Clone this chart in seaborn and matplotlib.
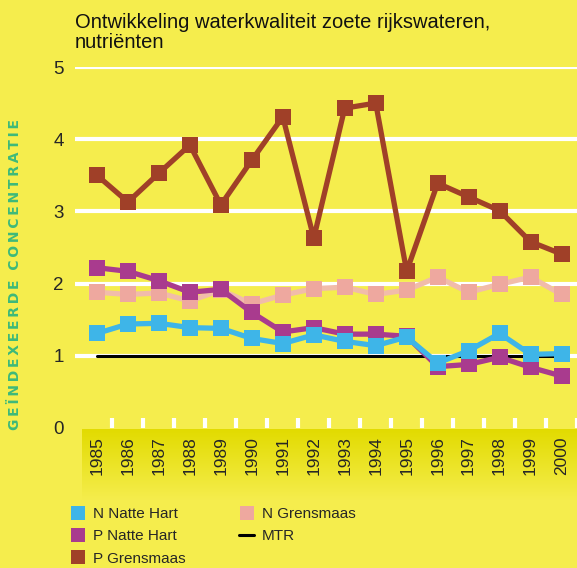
import numpy as np
import pandas as pd
import matplotlib
matplotlib.use("Agg")
import matplotlib.pyplot as plt
import seaborn as sns
from matplotlib.lines import Line2D

# -----------------------------------
# Data
# -----------------------------------
years = [1985, 1986, 1987, 1988, 1989, 1990, 1991, 1992,
         1993, 1994, 1995, 1996, 1997, 1998, 1999, 2000]

n_grensmaas = [1.88, 1.85, 1.87, 1.76, 1.91, 1.72, 1.84, 1.93,
               1.95, 1.85, 1.91, 2.09, 1.88, 1.99, 2.09, 1.85]
p_natte_hart = [2.22, 2.17, 2.04, 1.88, 1.92, 1.60, 1.33, 1.39,
                1.30, 1.30, 1.27, 0.85, 0.88, 0.98, 0.84, 0.72]
n_natte_hart = [1.31, 1.44, 1.45, 1.39, 1.38, 1.24, 1.17, 1.29,
                1.20, 1.14, 1.26, 0.90, 1.07, 1.31, 1.02, 1.03]
p_grensmaas = [3.50, 3.13, 3.53, 3.92, 3.09, 3.71, 4.31, 2.63,
               4.43, 4.50, 2.17, 3.39, 3.20, 3.01, 2.58, 2.41]
mtr = [1.0] * len(years)

series_names = ["N Grensmaas", "P Natte Hart", "N Natte Hart", "P Grensmaas"]
series_values = [n_grensmaas, p_natte_hart, n_natte_hart, p_grensmaas]
colors = {"N Grensmaas": "#eea89f", "P Natte Hart": "#a93b8e",
          "N Natte Hart": "#3eb5e8", "P Grensmaas": "#a04028"}
line_colors = {"N Grensmaas": "#f1bcaa", "P Natte Hart": "#a93b8e",
               "N Natte Hart": "#3eb5e8", "P Grensmaas": "#a04028"}

rows = []
for name, vals in zip(series_names, series_values):
    for i, v in enumerate(vals):
        rows.append({"pos": i, "year": years[i], "series": name, "value": v})
df = pd.DataFrame(rows)

# -----------------------------------
# Style
# -----------------------------------
bg = "#f5ed4d"
sns.set_theme(style="white")
plt.rcParams["font.family"] = ["Liberation Sans", "DejaVu Sans"]

fig = plt.figure(figsize=(5.77, 5.68), dpi=100, facecolor=bg)

# darker band behind the year labels
band = fig.add_axes([82 / 577, (568 - 500) / 568, 1 - 82 / 577, 71 / 568], zorder=0)
grad = np.linspace(0, 1, 100).reshape(-1, 1)
top = np.array(matplotlib.colors.to_rgb("#e2db00"))
bot = np.array(matplotlib.colors.to_rgb(bg))
img = top[None, None, :] * (1 - grad[:, :, None]) + bot[None, None, :] * grad[:, :, None]
band.imshow(img, aspect="auto", extent=[0, 1, 0, 1])
band.axis("off")

ax = fig.add_axes([75 / 577, (568 - 428) / 568, 1 - 75 / 577, 361 / 568], zorder=1)
ax.set_facecolor("none")

# white gridlines
for y in [1, 2, 3, 4, 5]:
    ax.axhline(y, color="white", lw=3, zorder=1)

# MTR line
sns.lineplot(x=list(range(len(years))), y=mtr, color="black", lw=2.2, ax=ax,
             zorder=2, legend=False)

for name in series_names:
    sub = df[df["series"] == name]
    sns.lineplot(data=sub, x="pos", y="value", color=line_colors[name], lw=3.8,
                 marker="s", markersize=11, markerfacecolor=colors[name],
                 markeredgewidth=0, ax=ax, zorder=3, legend=False)

ax.set_xlim(-0.71, 15.48)
ax.set_ylim(0, 5)
ax.set_xticks(range(len(years)))
ax.set_xticklabels([str(y) for y in years], rotation=90, fontsize=12.5)
ax.set_xticks(np.arange(len(years)) + 0.5, minor=True)
ax.tick_params(axis="x", which="major", length=0, pad=6)
ax.tick_params(axis="x", which="minor", direction="in", length=7, width=3,
               colors="white", bottom=True)
ax.set_yticks([0, 1, 2, 3, 4, 5])
ax.tick_params(axis="y", length=0, labelsize=13.5, pad=8)
ax.set_xlabel("")
ax.set_ylabel("")
for s in ax.spines.values():
    s.set_visible(False)

fig.text(75 / 577, 1 - 13 / 568, "Ontwikkeling waterkwaliteit zoete rijkswateren,\nnutriënten",
         ha="left", va="top", fontsize=14.5, linespacing=1.1, color="#111111")

ylab = "\u2009".join("GEÏNDEXEERDE") + "  " + "\u2009".join("CONCENTRATIE")
fig.text(15 / 577, 1 - 275 / 568, ylab,
         rotation=90, ha="center", va="center", fontsize=10, fontweight="bold",
         color="#3db97a", family="DejaVu Sans")

# legend
handles = [
    Line2D([], [], ls="none", marker="s", markersize=10, markeredgewidth=0, color=colors["N Natte Hart"]),
    Line2D([], [], ls="none", marker="s", markersize=10, markeredgewidth=0, color=colors["P Natte Hart"]),
    Line2D([], [], ls="none", marker="s", markersize=10, markeredgewidth=0, color=colors["P Grensmaas"]),
    Line2D([], [], ls="none", marker="s", markersize=10, markeredgewidth=0, color=colors["N Grensmaas"]),
    Line2D([], [], color="black", lw=2.2),
]
labels = ["N Natte Hart", "P Natte Hart", "P Grensmaas", "N Grensmaas", "MTR"]
fig.legend(handles, labels, loc="upper left", bbox_to_anchor=(70 / 577, 1 - 507 / 568),
           ncol=2, frameon=False, fontsize=11, handlelength=1.0, handletextpad=0.5,
           columnspacing=3.5, labelspacing=0.55, borderaxespad=0, borderpad=0)

fig.savefig("out.png", dpi=100, facecolor=bg)
